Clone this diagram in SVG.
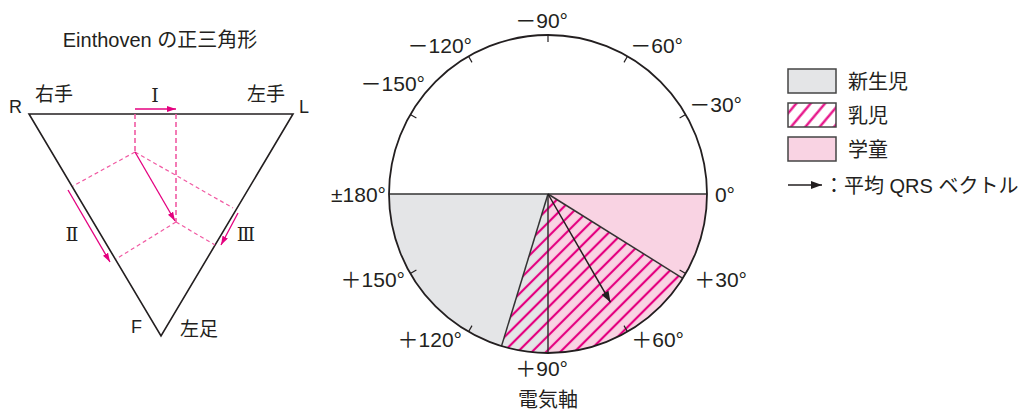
<svg xmlns="http://www.w3.org/2000/svg" width="1027" height="411" viewBox="0 0 1027 411">
<style>
text{font-family:"Liberation Sans","Noto Sans CJK JP",sans-serif;fill:#231f20}
.ang{font-size:21px;text-anchor:end}
.jp{font-family:"Noto Sans CJK JP",sans-serif;font-size:19px}
.rn{font-family:"DejaVu Serif","Liberation Serif",serif;font-size:19px;text-anchor:middle}
.lg{font-family:"Liberation Sans","Noto Sans CJK JP",sans-serif;font-size:20px}
.tri{fill:none;stroke:#231f20;stroke-width:1.6}
.dash{fill:none;stroke:#f15aa3;stroke-width:1.2;stroke-dasharray:4 3}
.vdash{fill:none;stroke:#f15aa3;stroke-width:1.6;stroke-dasharray:5 3}
.mag{fill:none;stroke:#e4007f;stroke-width:1.3}
.ax{fill:none;stroke:#333;stroke-width:1.5}
.tick{fill:none;stroke:#231f20;stroke-width:1.2}
.box{stroke:#444;stroke-width:1.5}
</style>
<defs>
<marker id="mh" markerWidth="9" markerHeight="6" refX="9" refY="3" orient="auto" markerUnits="userSpaceOnUse"><path d="M0,0L9,3L0,6Z" fill="#e4007f"/></marker>
<marker id="kh" markerWidth="11" markerHeight="8" refX="11" refY="4" orient="auto" markerUnits="userSpaceOnUse"><path d="M0,0L11,4L0,8Z" fill="#231f20"/></marker>
<pattern id="hatch" width="10" height="10" patternUnits="userSpaceOnUse" patternTransform="rotate(45)"><line x1="5" y1="0" x2="5" y2="10" stroke="#e4007f" stroke-width="2.2"/></pattern>
<pattern id="hatchL" width="11" height="10" patternUnits="userSpaceOnUse" patternTransform="rotate(40)"><line x1="5.5" y1="0" x2="5.5" y2="10" stroke="#e4007f" stroke-width="2.2"/></pattern>
</defs>

<g id="einthoven">
<text x="160" y="47" font-size="20" text-anchor="middle">Einthoven の正三角形</text>
<path class="tri" d="M29,114 L293,114 L161,336 Z"/>
<text x="9" y="113" font-size="18">R</text>
<text x="299" y="113" font-size="18">L</text>
<text x="131" y="333" font-size="18">F</text>
<text class="jp" x="35" y="101">右手</text>
<text class="jp" x="247" y="101">左手</text>
<text class="jp" x="180" y="336">左足</text>
<line class="vdash" x1="135" y1="114" x2="135" y2="152"/>
<line class="vdash" x1="176" y1="114" x2="176" y2="222"/>
<line class="dash" x1="135" y1="152" x2="73" y2="186"/>
<line class="dash" x1="135" y1="152" x2="233" y2="208"/>
<line class="dash" x1="176" y1="222" x2="116" y2="259"/>
<line class="dash" x1="176" y1="222" x2="215" y2="245"/>
<line class="mag" x1="135" y1="152" x2="175" y2="221" marker-end="url(#mh)"/>
<line class="mag" x1="135" y1="109" x2="176" y2="109" marker-end="url(#mh)"/>
<line class="mag" x1="68" y1="190" x2="110" y2="262" marker-end="url(#mh)"/>
<line class="mag" x1="238" y1="213" x2="221" y2="245" marker-end="url(#mh)"/>
<text class="rn" x="155" y="102">Ⅰ</text>
<text class="rn" x="72" y="241">Ⅱ</text>
<text class="rn" x="246" y="241">Ⅲ</text>
</g>

<g id="axis-circle">
<path d="M548,194 L389,194 A159,159 0 0 0 548,353 Z" fill="#e4e5e7"/>
<path d="M548,194 L707,194 A159,159 0 0 1 548,353 Z" fill="#f9d3e3"/>
<path d="M548,194 L682.8,278.3 A159,159 0 0 1 501.5,346.1 Z" fill="url(#hatch)"/>
<line class="ax" x1="389" y1="194" x2="707" y2="194"/>
<line class="ax" x1="548" y1="194" x2="548" y2="353"/>
<line class="ax" x1="548" y1="194" x2="682.8" y2="278.3"/>
<line class="ax" x1="548" y1="194" x2="501.5" y2="346.1"/>
<circle cx="548" cy="194" r="159" fill="none" stroke="#231f20" stroke-width="1.8"/>
<g>
<line class="tick" x1="410.3" y1="114.5" x2="416.4" y2="118"/>
<line class="tick" x1="468.5" y1="56.3" x2="472" y2="62.4"/>
<line class="tick" x1="548" y1="35" x2="548" y2="42"/>
<line class="tick" x1="627.5" y1="56.3" x2="624" y2="62.4"/>
<line class="tick" x1="685.7" y1="114.5" x2="679.6" y2="118"/>
<line class="tick" x1="685.7" y1="273.5" x2="679.6" y2="270"/>
<line class="tick" x1="627.5" y1="331.7" x2="624" y2="325.6"/>
<line class="tick" x1="468.5" y1="331.7" x2="472" y2="325.6"/>
<line class="tick" x1="410.3" y1="273.5" x2="416.4" y2="270"/>
</g>
<line x1="548" y1="194" x2="610.5" y2="302.3" stroke="#231f20" stroke-width="1.5" marker-end="url(#kh)"/>
<text class="ang" x="568" y="28">－90°</text>
<text class="ang" x="472" y="53">－120°</text>
<text class="ang" x="683" y="53">－60°</text>
<text class="ang" x="425" y="91">－150°</text>
<text class="ang" x="742" y="112">－30°</text>
<text class="ang" x="386" y="202">±180°</text>
<text class="ang" x="735" y="202">0°</text>
<text class="ang" x="747" y="287">＋30°</text>
<text class="ang" x="405" y="287">＋150°</text>
<text class="ang" x="462" y="347">＋120°</text>
<text class="ang" x="684" y="347">＋60°</text>
<text class="ang" x="568" y="376">＋90°</text>
<text class="lg" x="548" y="407" text-anchor="middle">電気軸</text>
</g>

<g id="legend">
<rect class="box" x="788" y="69" width="48" height="24" fill="#e4e5e7"/>
<text class="lg" x="848" y="89">新生児</text>
<rect x="788" y="103" width="48" height="24" fill="#fff"/>
<rect class="box" x="788" y="103" width="48" height="24" fill="url(#hatchL)"/>
<text class="lg" x="848" y="123">乳児</text>
<rect class="box" x="788" y="137" width="48" height="24" fill="#f9d3e3"/>
<text class="lg" x="848" y="157">学童</text>
<line x1="788" y1="185" x2="822" y2="185" stroke="#231f20" stroke-width="1.5" marker-end="url(#kh)"/>
<text class="lg" x="824" y="193">：平均 QRS ベクトル</text>
</g>
</svg>
